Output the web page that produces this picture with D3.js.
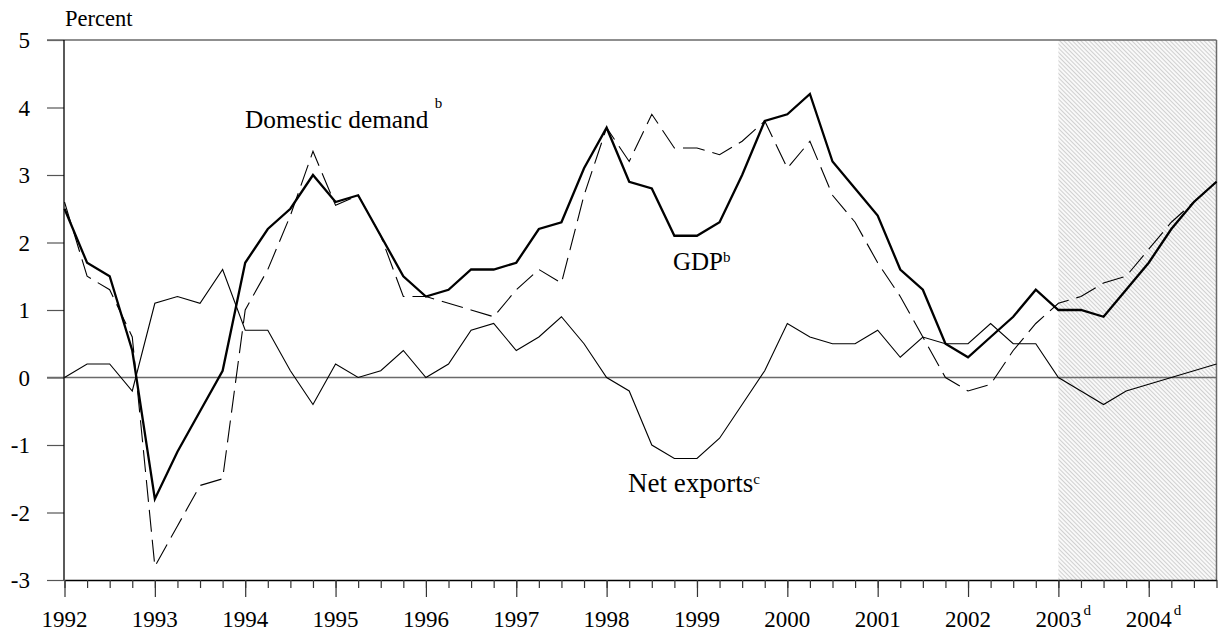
<!DOCTYPE html>
<html><head><meta charset="utf-8">
<script src="https://cdn.jsdelivr.net/npm/d3@7"></script>
<style>
body{margin:0;background:#fff}
text{font-family:"Liberation Serif","Times New Roman",serif;fill:#000}
</style>
</head><body>
<svg id="chart" width="1221" height="632"></svg>
<script>
// ---- data ----
const years = [1992,1993,1994,1995,1996,1997,1998,1999,2000,2001,2002,2003,2004];
const yearLabels = ["1992","1993","1994","1995","1996","1997","1998","1999","2000","2001","2002","2003","2004"];
const yearNotes = ["","","","","","","","","","","","d","d"];
const yTicks = [-3,-2,-1,0,1,2,3,4,5];
const forecastStart = 2003;

const gdp = [2.5,1.7,1.5,0.4, -1.8,-1.1,-0.5,0.1, 1.7,2.2,2.5,3.0, 2.6,2.7,2.1,1.5,
  1.2,1.3,1.6,1.6, 1.7,2.2,2.3,3.1, 3.7,2.9,2.8,2.1, 2.1,2.3,3.0,3.8,
  3.9,4.2,3.2,2.8, 2.4,1.6,1.3,0.5, 0.3,0.6,0.9,1.3, 1.0,1.0,0.9,1.3, 1.7,2.2,2.6,2.9];
const domesticDemand = [2.6,1.5,1.3,0.6, -2.8,-2.2,-1.6,-1.5, 1.0,1.6,2.4,3.35, 2.55,2.7,2.1,1.2,
  1.2,1.1,1.0,0.9, 1.3,1.6,1.4,2.7, 3.7,3.2,3.9,3.4, 3.4,3.3,3.5,3.8,
  3.1,3.5,2.7,2.3, 1.7,1.2,0.6,0.0, -0.2,-0.1,0.4,0.8, 1.1,1.2,1.4,1.5, 1.9,2.3,2.6,2.9];
const netExports = [0.0,0.2,0.2,-0.2, 1.1,1.2,1.1,1.6, 0.7,0.7,0.1,-0.4, 0.2,0.0,0.1,0.4,
  0.0,0.2,0.7,0.8, 0.4,0.6,0.9,0.5, 0.0,-0.2,-1.0,-1.2, -1.2,-0.9,-0.4,0.1,
  0.8,0.6,0.5,0.5, 0.7,0.3,0.6,0.5, 0.5,0.8,0.5,0.5, 0.0,-0.2,-0.4,-0.2, -0.1,0.0,0.1,0.2];

// quarter positions (categories) derived from the year list
const quarters = years.flatMap(yr => [0,1,2,3].map(q => yr + q/4));

// ---- layout ----
const svg = d3.select("#chart");
const x = d3.scaleLinear().domain([1992, 2004.75]).range([64.5, 1216.5]);
const y = d3.scaleLinear().domain([-3, 5]).range([580, 40]);

const defs = svg.append("defs");
const pat = defs.append("pattern").attr("id","hatch")
  .attr("patternUnits","userSpaceOnUse").attr("width",3).attr("height",3)
  .attr("patternTransform","rotate(-45)");
pat.append("rect").attr("width",3).attr("height",3).attr("fill","#f9f9f9");
pat.append("line").attr("x1",0.5).attr("y1",0).attr("x2",0.5).attr("y2",3)
  .attr("stroke","#d0d0d0").attr("stroke-width",1);

// forecast shading
svg.append("rect")
  .attr("x", x(forecastStart)).attr("y", y(5))
  .attr("width", x(2004.75) - x(forecastStart)).attr("height", y(-3) - y(5))
  .attr("fill","url(#hatch)");

// y axis ticks (left, outside)
const yAxis = d3.axisLeft(y).tickValues(yTicks).tickSize(17).tickFormat("");
const gy = svg.append("g").attr("transform","translate(64,0)").call(yAxis);
gy.select(".domain").remove();
gy.selectAll(".tick line").attr("stroke","#555").attr("stroke-width",1.2);
svg.append("g").selectAll("text").data(yTicks).join("text")
  .attr("x", 30).attr("y", d => y(d)).attr("dy","0.35em")
  .attr("text-anchor","end").attr("font-size",23)
  .text(d => d);

// top border and zero line (gray)
svg.append("line").attr("x1",47).attr("x2",x(2004.75)).attr("y1",y(5)).attr("y2",y(5))
  .attr("stroke","#6a6a6a").attr("stroke-width",1.5);
svg.append("line").attr("x1",47).attr("x2",x(2004.75)).attr("y1",y(0)).attr("y2",y(0))
  .attr("stroke","#6a6a6a").attr("stroke-width",1.5);
// right border
svg.append("line").attr("x1",x(2004.75)).attr("x2",x(2004.75)).attr("y1",y(5)).attr("y2",y(-3))
  .attr("stroke","#6a6a6a").attr("stroke-width",1.5);

// series
const line = d3.line().x((d,i) => x(quarters[i])).y(d => y(d));
svg.append("path").datum(netExports).attr("d", line)
  .attr("fill","none").attr("stroke","#000").attr("stroke-width",1.1);
svg.append("path").datum(domesticDemand).attr("d", line)
  .attr("fill","none").attr("stroke","#000").attr("stroke-width",1.1)
  .attr("stroke-dasharray","22,8");
svg.append("path").datum(gdp).attr("d", line)
  .attr("fill","none").attr("stroke","#000").attr("stroke-width",2.3)
  .attr("stroke-linejoin","miter");

// y axis line
svg.append("line").attr("x1",64).attr("x2",64).attr("y1",y(5)).attr("y2",y(-3))
  .attr("stroke","#000").attr("stroke-width",1.3);

// x axis: minor quarter ticks and major year ticks
const gxMinor = svg.append("g").attr("transform",`translate(0,${y(-3)})`)
  .call(d3.axisBottom(x).tickValues(quarters).tickSize(8).tickFormat("").tickSizeOuter(0));
gxMinor.select(".domain").attr("stroke","#000").attr("stroke-width",1.3);
gxMinor.selectAll(".tick line").attr("stroke","#333").attr("stroke-width",1.2);
const gxMajor = svg.append("g").attr("transform",`translate(0,${y(-3)})`)
  .call(d3.axisBottom(x).tickValues(years).tickSize(17).tickFormat("").tickSizeOuter(0));
gxMajor.select(".domain").remove();
gxMajor.selectAll(".tick line").attr("stroke","#333").attr("stroke-width",1.2);

svg.append("g").selectAll("text").data(years).join("text")
  .attr("x", d => x(d)).attr("y", 627).attr("text-anchor","middle").attr("font-size",23)
  .text((d,i) => yearLabels[i]);
svg.append("g").selectAll("text").data(years.filter((d,i)=>yearNotes[i])).join("text")
  .attr("x", d => x(d) + 25).attr("y", 615).attr("font-size",15)
  .text(d => yearNotes[years.indexOf(d)]);

// axis title
svg.append("text").attr("x",65).attr("y",26).attr("font-size",22.5).text("Percent");

// annotations
const ann = [
  {t:"Domestic demand", s:"b", x:245, y:128, fs:25.3, gap:" ", rise:20},
  {t:"GDP", s:"b", x:673, y:270, fs:25, gap:"", rise:8},
  {t:"Net exports", s:"c", x:628, y:492, fs:27, gap:"", rise:8}
];
ann.forEach(a => {
  const t = svg.append("text").attr("x",a.x).attr("y",a.y).attr("font-size",a.fs);
  t.append("tspan").text(a.t + a.gap);
  t.append("tspan").attr("font-size",15).attr("dy",-a.rise).text(a.s);
});
</script>
</body></html>
